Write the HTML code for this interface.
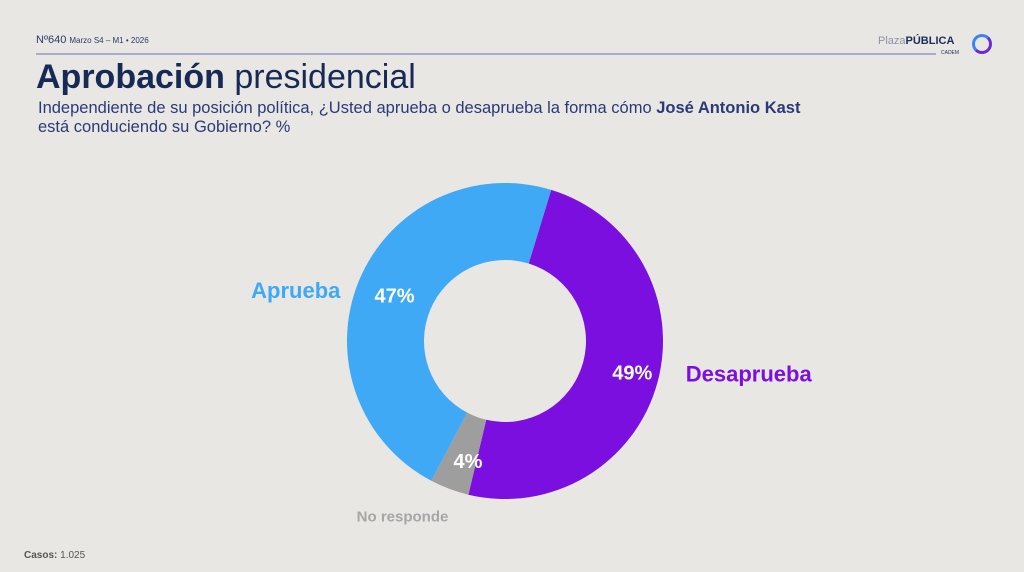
<!DOCTYPE html>
<html><head><meta charset="utf-8"><style>
body{margin:0;width:1024px;height:572px;background:#e9e7e3;font-family:"Liberation Sans",sans-serif;position:relative;overflow:hidden}
div,span{position:absolute}
</style></head><body>
<div style="left:36px;top:34px;font-size:11px;color:#2b3a67;white-space:nowrap">Nº640 <span style="position:static;font-size:8px">Marzo S4 – M1 • 2026</span></div>
<div style="left:36px;top:53px;width:900px;height:2px;background:#a9abd0"></div>
<div style="left:878px;top:35px;font-size:11px;color:#8a93a8;white-space:nowrap">Plaza<b style="color:#1c2d5a">PÚBLICA</b></div>
<div style="left:941px;top:50px;font-size:5px;color:#1c2d5a">CADEM</div>
<div style="left:972px;top:34px;width:14px;height:14px;border:3px solid #3b5bdb;border-color:#3b82f6 #6d28d9 #6d28d9 #3b82f6;border-radius:50%"></div>
<div style="left:36px;top:58px;font-size:34px;color:#172a55;white-space:nowrap"><b>Aprobación</b> presidencial</div>
<div style="left:38px;top:99px;font-size:16.5px;line-height:19px;color:#2b3a78;width:900px">Independiente de su posición política, ¿Usted aprueba o desaprueba la forma cómo <b>José Antonio Kast</b><br>está conduciendo su Gobierno? %</div>
<svg id="chart" width="1024" height="572" style="position:absolute;left:0;top:0"></svg>
<div style="left:24px;top:550px;font-size:10px;color:#555"><b>Casos:</b> 1.025</div>
<script>
const categories=["Desaprueba","No responde","Aprueba"];
const values=[49,4,47];
const colors=["#7b0fe0","#9e9e9e","#3fa9f5"];
const labelColors=["#7b0fe0","#a6a6a6","#3fa9f5"];
const labelDx=[9,6,0];
const labelDy=[-13,7,18];
const valDx=[12,5,0];
const valDy=[0,8,0];
const svg=document.getElementById('chart');
const NS="http://www.w3.org/2000/svg";
const cx=505,cy=341,R=158,r=81,start=17;
const total=values.reduce((a,b)=>a+b,0);
function pt(a,rad){const t=(a-90)*Math.PI/180;return [cx+rad*Math.cos(t),cy+rad*Math.sin(t)];}
let a=start;
values.forEach((v,i)=>{
  const span=v/total*360,a2=a+span,lg=span>180?1:0;
  const p1=pt(a,R),p2=pt(a2,R),p3=pt(a2,r),p4=pt(a,r);
  const p=document.createElementNS(NS,'path');
  p.setAttribute('d',`M${p1}A${R},${R} 0 ${lg} 1 ${p2}L${p3}A${r},${r} 0 ${lg} 0 ${p4}Z`);
  p.setAttribute('fill',colors[i]);
  
  
  svg.appendChild(p);
  const mid=a+span/2,[vx,vy]=pt(mid,(R+r)/2);
  const t=document.createElementNS(NS,'text');
  t.setAttribute('x',vx+valDx[i]);t.setAttribute('y',vy+7+valDy[i]);t.setAttribute('text-anchor','middle');
  t.setAttribute('font-size','20');t.setAttribute('font-weight','bold');t.setAttribute('fill','#fff');
  t.setAttribute('font-family','Liberation Sans, sans-serif');
  t.textContent=v+'%';
  
  
  svg.appendChild(t);
  const [lx,ly]=pt(mid,R+20);
  const l=document.createElementNS(NS,'text');
  const anchor=Math.abs(lx-cx)<40?'middle':(lx>cx?'start':'end');
  l.setAttribute('x',(anchor==='middle'?lx-90:lx)+labelDx[i]);l.setAttribute('y',(anchor==='middle'?ly+25:ly+7)+labelDy[i]);
  l.setAttribute('text-anchor',anchor==='middle'?'start':anchor);
  l.setAttribute('font-size',i===1?'15':'22');l.setAttribute('font-weight','bold');l.setAttribute('fill',labelColors[i]);
  l.setAttribute('font-family','Liberation Sans, sans-serif');
  l.textContent=categories[i];
  
  
  svg.appendChild(l);
  a=a2;
});
</script>
</body></html>
